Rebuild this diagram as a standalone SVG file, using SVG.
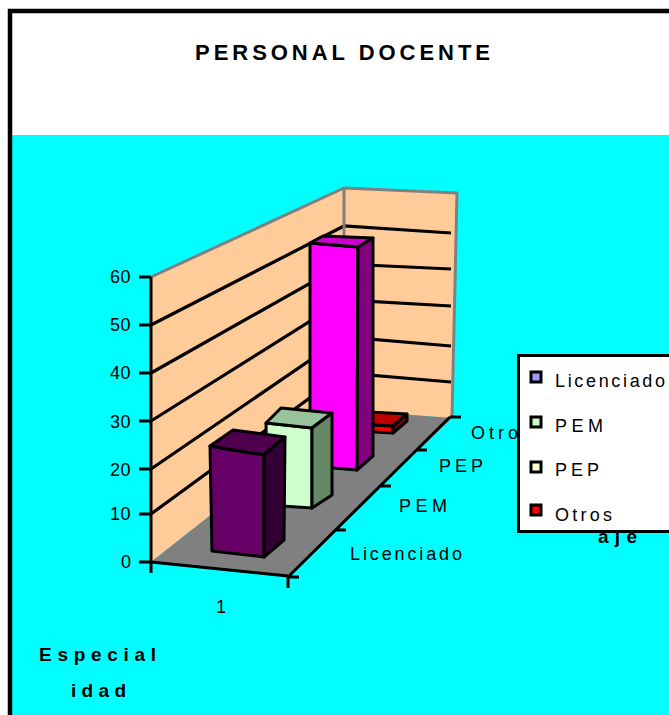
<svg xmlns="http://www.w3.org/2000/svg" width="669" height="715" viewBox="0 0 669 715">
<style>
.t{font-family:"Liberation Sans",Arial,sans-serif;font-size:18px;fill:#000}
.b{font-weight:bold;font-size:19px}
.ax{stroke:#000;stroke-width:3;fill:none}
.grid{stroke:#000;stroke-width:3.2;fill:none}
.edge{stroke:#808080;stroke-width:3;fill:none;stroke-linejoin:round}
.bar{stroke:#000;stroke-width:3;stroke-linejoin:round}
.mk{stroke:#000;stroke-width:3}
</style>
<rect x="0" y="0" width="669" height="715" fill="#ffffff"/>
<rect x="12" y="135" width="657" height="580" fill="#00ffff"/>
<path d="M10,715 V11 H669" stroke="#000" stroke-width="4.5" fill="none"/>
<g id="title"><text class="t" style="font-weight:bold;font-size:22px" x="195" y="60" textLength="295" lengthAdjust="spacing">PERSONAL DOCENTE</text></g>
<g id="walls">
<polygon points="151,277 344,188 344,410 151,562" fill="#ffcc99"/>
<polygon points="344,188 457,193 452,418 344,410" fill="#ffcc99"/>
<polygon points="151,562 288,576 452,418 344,410" fill="#808080"/>
<path class="grid" d="M151,514 L344,373 L451,382 M151,469 L344,337 L451,346 M151,421 L344,300 L451,306 M151,373 L344,264 L451,269 M151,325 L344,226 L451,233"/>
<path class="edge" d="M151,277 L344,188 L457,193 L452,418 M344,188 L344,410"/>
</g>
<g id="bar-otros">
<polygon class="bar" points="355,424 393,426 393,433 355,431" fill="#ff0000"/>
<polygon class="bar" points="355,424 369,412 407,414 393,426" fill="#c00000"/>
<polygon class="bar" points="393,426 407,414 407,421 393,433" fill="#800000"/>
</g>
<g id="bar-pep">
<polygon class="bar" points="310,243 358,247 357,470 310,466" fill="#ff00ff"/>
<polygon class="bar" points="310,243 323,236 373,238 358,247" fill="#cc00cc"/>
<polygon class="bar" points="358,247 373,238 373,456 357,470" fill="#800080"/>
</g>
<g id="bar-pem">
<polygon class="bar" points="266,423 312,428 312,508 267,505" fill="#ccffcc"/>
<polygon class="bar" points="266,423 281,408 332,413 312,428" fill="#99c399"/>
<polygon class="bar" points="312,428 332,413 332,495 312,508" fill="#668866"/>
</g>
<g id="bar-licenciado">
<polygon class="bar" points="210,446 264,455 264,557 212,551" fill="#660066"/>
<polygon class="bar" points="210,446 233,430 285,437 264,455" fill="#4d004d"/>
<polygon class="bar" points="264,455 285,437 284,540 264,557" fill="#330033"/>
</g>
<g id="axes">
<path class="ax" d="M151,277 V573 M139,277 H151 M139,325 H151 M139,373 H151 M139,421 H151 M139,469 H151 M139,514 H151 M139,562 H151"/>
<path class="ax" d="M151,562 L288,576 M288,576 V588"/>
<path class="ax" d="M288,577 L450,417 M450,417 H461 M416,450 H427 M380,486 H391 M335,530 H346 M288,577 H299"/>
</g>
<g id="labels">
<text class="t" x="131" y="283" text-anchor="end" letter-spacing="0.5">60</text>
<text class="t" x="131" y="331" text-anchor="end" letter-spacing="0.5">50</text>
<text class="t" x="131" y="379" text-anchor="end" letter-spacing="0.5">40</text>
<text class="t" x="131" y="428" text-anchor="end" letter-spacing="0.5">30</text>
<text class="t" x="131" y="476" text-anchor="end" letter-spacing="0.5">20</text>
<text class="t" x="131" y="520" text-anchor="end" letter-spacing="0.5">10</text>
<text class="t" x="131" y="568" text-anchor="end">0</text>
<text class="t" x="350" y="560" textLength="112" lengthAdjust="spacing">Licenciado</text>
<text class="t" x="399" y="512" textLength="48" lengthAdjust="spacing">PEM</text>
<text class="t" x="439" y="472" textLength="44" lengthAdjust="spacing">PEP</text>
<text class="t" x="471" y="439" letter-spacing="4">Otros</text>
<text class="t" x="216" y="613">1</text>
<text class="t b" x="39" y="661" textLength="117" lengthAdjust="spacing">Especial</text>
<text class="t b" x="71" y="697" textLength="55" lengthAdjust="spacing">idad</text>
<text class="t b" x="598" y="543" textLength="39" lengthAdjust="spacing">aje</text>
</g>
<g id="legend">
<rect x="518.5" y="355.5" width="200" height="176" fill="#ffffff" stroke="#000" stroke-width="3"/>
<rect class="mk" x="531" y="372" width="10" height="10" fill="#9999ff"/>
<rect class="mk" x="531" y="417" width="10" height="10" fill="#ccffcc"/>
<rect class="mk" x="531" y="462" width="10" height="10" fill="#ffffcc"/>
<rect class="mk" x="531" y="505" width="10" height="10" fill="#ff0000"/>
<text class="t" x="555" y="387" textLength="110" lengthAdjust="spacing">Licenciado</text>
<text class="t" x="555" y="432" textLength="48" lengthAdjust="spacing">PEM</text>
<text class="t" x="555" y="476" textLength="44" lengthAdjust="spacing">PEP</text>
<text class="t" x="555" y="521" textLength="57" lengthAdjust="spacing">Otros</text>
</g>
</svg>
